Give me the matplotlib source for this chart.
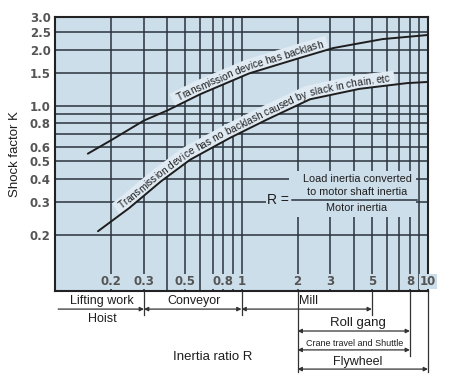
import numpy as np
import matplotlib
matplotlib.use("Agg")
import matplotlib.pyplot as plt
import matplotlib.transforms as mtransforms
from matplotlib.font_manager import FontProperties, findfont
from matplotlib.ft2font import FT2Font
from matplotlib.patches import Rectangle
from matplotlib.ticker import NullLocator

# curves (inertia ratio R -> shock factor K)
backlash_R = [0.15, 0.2, 0.3, 0.4, 0.6, 1.1, 2.0, 3.1, 5.7, 10]
backlash_K = [0.55, 0.65, 0.83, 0.94, 1.15, 1.49, 1.79, 2.04, 2.28, 2.4]
no_backlash_R = [0.17, 0.25, 0.37, 0.53, 0.87, 1.37, 2.33, 4.3, 7.7, 10]
no_backlash_K = [0.21, 0.28, 0.39, 0.51, 0.67, 0.84, 1.08, 1.23, 1.32, 1.34]

k_ticks = [0.2, 0.3, 0.4, 0.5, 0.6, 0.8, 1.0, 1.5, 2.0, 2.5, 3.0]
k_tick_labels = ["0.2", "0.3", "0.4", "0.5", "0.6", "0.8", "1.0", "1.5", "2.0", "2.5", "3.0"]
r_ticks = [0.2, 0.3, 0.5, 0.8, 1, 2, 3, 5, 8, 10]
r_tick_labels = ["0.2", "0.3", "0.5", "0.8", "1", "2", "3", "5", "8", "10"]

k_grid = [0.2, 0.3, 0.4, 0.5, 0.6, 0.7, 0.8, 0.9, 1.0, 1.5, 2.0, 2.5]
r_grid = [0.2, 0.3, 0.4, 0.5, 0.6, 0.7, 0.8, 0.9, 1, 2, 3, 4, 5, 6, 7, 8, 9]

backlash_label = "Transmission device has backlash"
no_backlash_label = "Transmission device has no backlash caused by slack in chain, etc"

BG = "#cddeeb"
BAND = "#e0eaf3"
GRID = "#29333d"
INK = "#1e1e1e"
TICK = "#555555"
SANS = "Liberation Sans"

fig = plt.figure(figsize=(4.5, 3.86), dpi=100)
ax = fig.add_axes([55 / 450, 1 - 291 / 386, 373 / 450, 274 / 386])
ax.set_xscale("log")
ax.set_yscale("log")
ax.set_xlim(0.1, 10)
ax.set_ylim(0.1, 3.0)
ax.set_facecolor(BG)

ax.hlines(k_grid, 0.1, 10, color=GRID, lw=1.1, zorder=1)
ax.vlines(r_grid, 0.1, 3.0, color=GRID, lw=1.1, zorder=1)

# blank area behind the formula
ax.add_patch(Rectangle((1.8, 0.25), 8.6 - 1.8, 0.445 - 0.25, facecolor=BG,
                       edgecolor="none", zorder=1.5))

for s in ax.spines.values():
    s.set_linewidth(1.5)
    s.set_color("#222222")

ax.set_yticks(k_ticks)
ax.set_yticklabels(k_tick_labels)
ax.yaxis.set_minor_locator(NullLocator())
ax.xaxis.set_minor_locator(NullLocator())
ax.set_xticks([])
ax.tick_params(axis="y", length=0, pad=3, labelsize=8.5, labelcolor=TICK)
for lab in ax.get_yticklabels():
    lab.set_fontweight("bold")

trans = mtransforms.blended_transform_factory(ax.transData, ax.transAxes)
for x, lab in zip(r_ticks, r_tick_labels):
    ax.text(x, 0.034, lab, transform=trans, ha="center", va="center",
            fontsize=8.5, fontweight="bold", color=TICK, zorder=3,
            bbox=dict(facecolor=BG, edgecolor="none", pad=0.6))

ax.plot(backlash_R, backlash_K, color=INK, lw=1.4, zorder=3, solid_capstyle="round")
ax.plot(no_backlash_R, no_backlash_K, color=INK, lw=1.4, zorder=3, solid_capstyle="round")


def text_on_curve(xs, ys, text, start_px, size=7.3, offset=3.5, band_w=14):
    """Lay text along a curve (display px), with a light band under it."""
    pts = ax.transData.transform(np.column_stack([xs, ys]))
    seg = np.hypot(*np.diff(pts, axis=0).T)
    arc = np.concatenate([[0], np.cumsum(seg)])
    s_fine = np.linspace(0, arc[-1], 3000)
    px = np.interp(s_fine, arc, pts[:, 0])
    py = np.interp(s_fine, arc, pts[:, 1])
    tx = np.gradient(px)
    ty = np.gradient(py)
    k = np.ones(80) / 80
    tx = np.convolve(np.pad(tx, 40, mode="edge"), k, mode="same")[40:-40]
    ty = np.convolve(np.pad(ty, 40, mode="edge"), k, mode="same")[40:-40]
    norm = np.hypot(tx, ty)
    tx, ty = tx / norm, ty / norm
    nx, ny = -ty, tx

    fp = FontProperties(family=SANS, size=size)
    font = FT2Font(findfont(fp))
    font.set_size(size, 100)
    adv = []
    for ch in text:
        g = font.load_char(ord(ch))
        adv.append(g.linearHoriAdvance / 65536)
    adv = np.array(adv)
    s0 = s_fine[np.argmax(px >= start_px)]
    total = adv.sum()

    def at(s, off):
        i = min(np.searchsorted(s_fine, s), len(s_fine) - 1)
        return px[i] + nx[i] * off, py[i] + ny[i] * off, np.degrees(np.arctan2(ty[i], tx[i]))

    sb = np.linspace(s0 - 5, s0 + total + 5, 200)
    band = np.array([at(s, band_w / 2)[:2] for s in sb])
    band = ax.transData.inverted().transform(band)
    ax.plot(band[:, 0], band[:, 1], color=BAND, lw=band_w * 0.72,
            solid_capstyle="butt", zorder=2)

    cum = np.concatenate([[0], np.cumsum(adv)[:-1]])
    for ch, c, a in zip(text, cum, adv):
        x, y, ang = at(s0 + c + a / 2, offset)
        xd, yd = ax.transData.inverted().transform((x, y))
        ax.text(xd, yd, ch, fontsize=size, family=SANS, color=INK,
                rotation=ang, rotation_mode="anchor", ha="center",
                va="baseline", zorder=4)


text_on_curve(backlash_R, backlash_K, backlash_label, start_px=180)
text_on_curve(no_backlash_R, no_backlash_K, no_backlash_label, start_px=124)

# R = load inertia / motor inertia
ax.text(1.57, 0.31, "R =", fontsize=10, family=SANS, color=INK, ha="center",
        va="center", zorder=4, bbox=dict(facecolor=BG, edgecolor="none", pad=0.5))
ax.plot([1.87, 8.7], [0.31, 0.31], color=GRID, lw=1.1, zorder=3)
frac_kw = dict(fontsize=7.8, family=SANS, color=INK, ha="center", va="center", zorder=4)
ax.text(4.16, 0.40, "Load inertia converted", **frac_kw)
ax.text(4.16, 0.343, "to motor shaft inertia", **frac_kw)
ax.text(4.16, 0.279, "Motor inertia", **frac_kw)

ax.set_ylabel("Shock factor K", fontsize=9.5, family=SANS, color=INK, labelpad=6)

# application ranges below the chart
line_kw = dict(color="#333333", lw=0.9, clip_on=False, transform=trans)
for x, ybot in [(0.3, -0.088), (1, -0.088), (5, -0.088), (2, -0.296),
                (8, -0.236), (10, -0.296)]:
    ax.plot([x, x], [0, ybot], **line_kw)


def span(x0, x1, y, style="<|-|>"):
    ax.annotate("", xy=(x1, y), xytext=(x0, y), xycoords=trans, textcoords=trans,
                arrowprops=dict(arrowstyle=style, color="#333333", lw=0.9,
                                mutation_scale=6, shrinkA=0, shrinkB=0),
                annotation_clip=False)


span(0.104, 0.3, -0.066, "-|>")
span(0.3, 1, -0.066)
span(1, 5, -0.066)
span(2, 8, -0.146)
span(2, 8, -0.215)
span(2, 10, -0.285)

lab_kw = dict(transform=trans, ha="center", va="center", family=SANS,
              color=INK, clip_on=False)
ax.text(0.179, -0.037, "Lifting work", fontsize=9, **lab_kw)
ax.text(0.179, -0.102, "Hoist", fontsize=9, **lab_kw)
ax.text(0.56, -0.037, "Conveyor", fontsize=9, **lab_kw)
ax.text(2.28, -0.037, "Mill", fontsize=9, **lab_kw)
ax.text(4.2, -0.117, "Roll gang", fontsize=9.5, **lab_kw)
ax.text(4.06, -0.19, "Crane travel and Shuttle", fontsize=6.5, **lab_kw)
ax.text(4.2, -0.259, "Flywheel", fontsize=9, **lab_kw)
ax.text(0.7, -0.241, "Inertia ratio R", fontsize=9.5, **lab_kw)

fig.savefig("out.png", dpi=100)
